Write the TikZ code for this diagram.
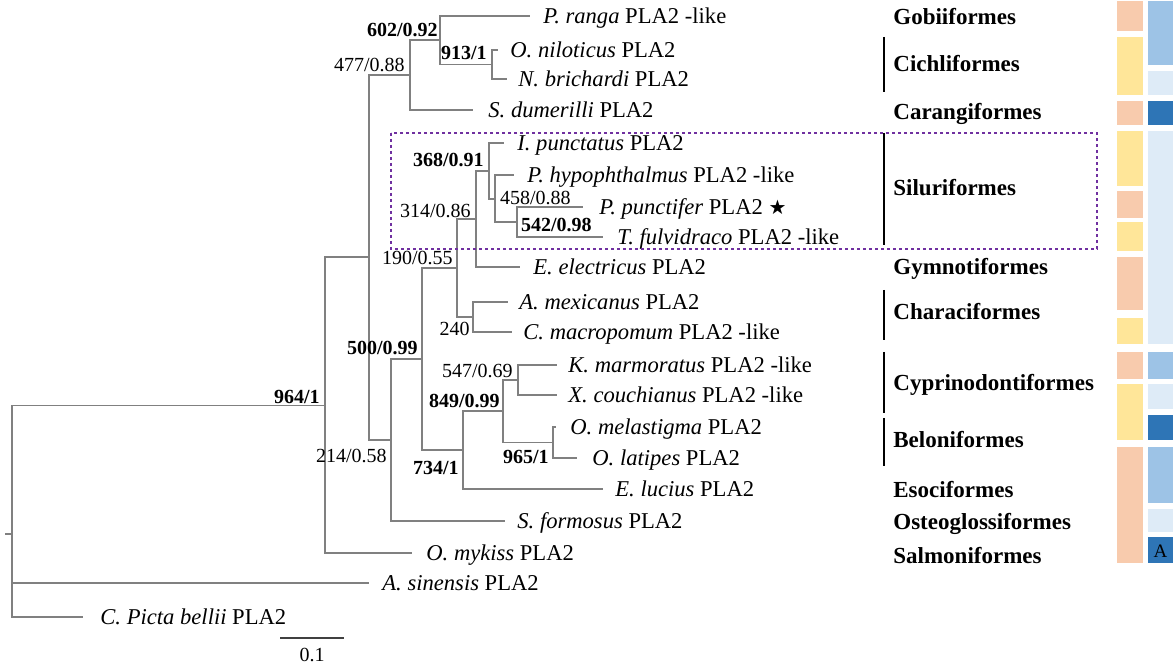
\documentclass[tikz,border=0pt]{standalone}
\usepackage{fontspec}
\setmainfont{Liberation Serif}
\newfontfamily\symfont{DejaVu Sans}
\definecolor{treegray}{HTML}{808080}
\definecolor{boxpurple}{HTML}{7030A0}
\definecolor{csalmon}{HTML}{F8CBAD}
\definecolor{cyellow}{HTML}{FFE699}
\definecolor{cmid}{HTML}{9DC3E6}
\definecolor{cpale}{HTML}{DEEBF7}
\definecolor{cdark}{HTML}{2E75B6}
\begin{document}
\begin{tikzpicture}[x=0.5pt,y=-0.5pt,
  br/.style={draw=treegray,line width=0.9pt},
  taxon/.style={anchor=base west,inner sep=0pt,font=\fontsize{11.3}{13}\selectfont},
  bs/.style={anchor=base east,inner sep=0pt,font=\fontsize{10}{12}\selectfont},
  bsb/.style={anchor=base east,inner sep=0pt,font=\fontsize{10}{12}\selectfont\bfseries},
  order/.style={anchor=base west,inner sep=0pt,font=\fontsize{11.5}{13}\selectfont\bfseries},
  obar/.style={draw=black,line width=1.4pt},
  cbox/.style={draw=none}]
\useasboundingbox[fill=white] (0,0) rectangle (1174,668);

% inner nodes
\coordinate (r) at (12,534);
\coordinate (n964) at (325,405.5);
\coordinate (n369) at (369,257);
\coordinate (n477) at (410,75);
\coordinate (n602) at (440,40);
\coordinate (n913) at (492,64.5);
\coordinate (n214) at (391,440);
\coordinate (n500) at (422,359);
\coordinate (n190) at (457,268);
\coordinate (n314) at (476,219);
\coordinate (n368) at (489,171);
\coordinate (n458) at (495,199);
\coordinate (n542) at (517,222);
\coordinate (n240) at (473,317);
\coordinate (n734) at (463,450);
\coordinate (n849) at (503,411);
\coordinate (n547) at (518,380);
\coordinate (n965) at (553,442.5);
% leaf ends
\coordinate (lPra) at (530,16);
\coordinate (lOni) at (498,50);
\coordinate (lNbr) at (507,79);
\coordinate (lSdu) at (473,110);
\coordinate (lIpu) at (504,143);
\coordinate (lPhy) at (514,175);
\coordinate (lPpu) at (583,207);
\coordinate (lTfu) at (603,237);
\coordinate (lEel) at (520,267);
\coordinate (lAme) at (508,302);
\coordinate (lCma) at (512,332);
\coordinate (lKma) at (557,365);
\coordinate (lXco) at (557,395);
\coordinate (lOme) at (556,427);
\coordinate (lOla) at (577,458);
\coordinate (lElu) at (603,489);
\coordinate (lSfo) at (505,521);
\coordinate (lOmy) at (412,553);
\coordinate (lAsi) at (369,583);
\coordinate (lCpi) at (83,617);
\coordinate (rstub) at (5,534);

% branches
\foreach \a/\b in {r/n964,r/lAsi,r/lCpi,n964/n369,n964/lOmy,n369/n477,n369/n214,
  n477/n602,n477/lSdu,n602/lPra,n602/n913,n913/lOni,n913/lNbr,n214/n500,n214/lSfo,
  n500/n190,n500/n734,n190/n314,n190/n240,n314/n368,n314/lEel,n368/lIpu,n368/n458,
  n458/lPhy,n458/n542,n542/lPpu,n542/lTfu,n240/lAme,n240/lCma,n734/n849,n734/lElu,
  n849/n547,n849/n965,n547/lKma,n547/lXco,n965/lOme,n965/lOla}
  \draw[br] (\a) |- (\b);
\draw[br] (r) -- (rstub);

% taxa
\node[taxon] (tPra) at (543,23.5) {\textit{P. ranga} PLA2 -like};
\node[taxon] (tOni) at (510,57.5) {\textit{O. niloticus} PLA2};
\node[taxon] (tNbr) at (518,86.5) {\textit{N. brichardi} PLA2};
\node[taxon] (tSdu) at (488,117.5) {\textit{S. dumerilli} PLA2};
\node[taxon] (tIpu) at (517,150.5) {\textit{I. punctatus} PLA2};
\node[taxon] (tPhy) at (527,182.5) {\textit{P. hypophthalmus} PLA2 -like};
\node[taxon] (tPpu) at (599,214.5) {\textit{P. punctifer} PLA2 {\symfont\fontsize{10}{11}\selectfont ★}};
\node[taxon] (tTfu) at (617,244.5) {\textit{T. fulvidraco} PLA2 -like};
\node[taxon] (tEel) at (533,274.5) {\textit{E. electricus} PLA2};
\node[taxon] (tAme) at (519,309.5) {\textit{A. mexicanus} PLA2};
\node[taxon] (tCma) at (523,339.5) {\textit{C. macropomum} PLA2 -like};
\node[taxon] (tKma) at (568,372.5) {\textit{K. marmoratus} PLA2 -like};
\node[taxon] (tXco) at (568,402.5) {\textit{X. couchianus} PLA2 -like};
\node[taxon] (tOme) at (570,434.5) {\textit{O. melastigma} PLA2};
\node[taxon] (tOla) at (592,465.5) {\textit{O. latipes} PLA2};
\node[taxon] (tElu) at (615,496.5) {\textit{E. lucius} PLA2};
\node[taxon] (tSfo) at (517,528.5) {\textit{S. formosus} PLA2};
\node[taxon] (tOmy) at (426,560.5) {\textit{O. mykiss} PLA2};
\node[taxon] (tAsi) at (382,590.5) {\textit{A. sinensis} PLA2};
\node[taxon] (tCpi) at (100,624.5) {\textit{C. Picta bellii} PLA2};

% support values
\node[bsb] (b602) at (438,37) {602/0.92};
\node[bs]  (b477) at (405,72) {477/0.88};
\node[bsb] (b913) at (487,60) {913/1};
\node[bsb] (b368) at (484,167) {368/0.91};
\node[bs]  (b314) at (471,218) {314/0.86};
\node[bs]  (b458) at (571,205) {458/0.88};
\node[bsb] (b542) at (592,232) {542/0.98};
\node[bs]  (b190) at (453,265) {190/0.55};
\node[bs]  (b240) at (470,336) {240};
\node[bsb] (b500) at (418,355) {500/0.99};
\node[bs]  (b547) at (513,378) {547/0.69};
\node[bsb] (b849) at (500,408) {849/0.99};
\node[bsb] (b734) at (459,474) {734/1};
\node[bsb] (b965) at (549,464) {965/1};
\node[bsb] (b964) at (320,404) {964/1};
\node[bs]  (b214) at (387,463) {214/0.58};

% scale bar
\coordinate (sb1) at (280,638);
\coordinate (sb2) at (344,638);
\draw[draw=black!75,line width=0.8pt] (sb1) -- (sb2);
\node[anchor=base,inner sep=0pt,font=\fontsize{10}{12}\selectfont] (sbl) at (312,661) {0.1};

% highlight box
\draw[boxpurple,line width=1.4pt,dash pattern=on 1.4pt off 1.6pt] (391,133) rectangle (1097,249);

% order bars
\draw[obar] (884,37) -- (884,92);
\draw[obar] (884,133) -- (884,245);
\draw[obar] (884,290) -- (884,340);
\draw[obar] (884,352) -- (884,413);
\draw[obar] (884,418) -- (884,466);

% order labels
\node[order] (oGob) at (893,25) {Gobiiformes};
\node[order] (oCic) at (893,72) {Cichliformes};
\node[order] (oCar) at (893,120) {Carangiformes};
\node[order] (oSil) at (893,196) {Siluriformes};
\node[order] (oGym) at (893,275) {Gymnotiformes};
\node[order] (oCha) at (893,320) {Characiformes};
\node[order] (oCyp) at (893,391) {Cyprinodontiformes};
\node[order] (oBel) at (893,448) {Beloniformes};
\node[order] (oEso) at (893,497) {Esociformes};
\node[order] (oOst) at (893,530) {Osteoglossiformes};
\node[order] (oSal) at (893,563) {Salmoniformes};

% colour columns
\fill[csalmon] (1117,1) rectangle (1143,31);
\fill[cyellow] (1117,37) rectangle (1143,95);
\fill[csalmon] (1117,101) rectangle (1143,125);
\fill[cyellow] (1117,131) rectangle (1143,186);
\fill[csalmon] (1117,191) rectangle (1143,218);
\fill[cyellow] (1117,222) rectangle (1143,251);
\fill[csalmon] (1117,257) rectangle (1143,310);
\fill[cyellow] (1117,318) rectangle (1143,344);
\fill[csalmon] (1117,352) rectangle (1143,379);
\fill[cyellow] (1117,384) rectangle (1143,440);
\fill[csalmon] (1117,447) rectangle (1143,563);

\fill[cmid]  (1148,1) rectangle (1173,65);
\fill[cpale] (1148,71) rectangle (1173,95);
\fill[cdark] (1148,101) rectangle (1173,125);
\fill[cpale] (1148,131) rectangle (1173,344);
\fill[cmid]  (1148,352) rectangle (1173,379);
\fill[cpale] (1148,384) rectangle (1173,409);
\fill[cdark] (1148,415) rectangle (1173,440);
\fill[cmid]  (1148,447) rectangle (1173,503);
\fill[cpale] (1148,509) rectangle (1173,532);
\fill[cdark] (1148,537) rectangle (1173,563);
\node[inner sep=0pt,font=\fontsize{9.5}{11}\selectfont] (Abox) at (1160.5,551) {A};
\end{tikzpicture}
\end{document}
